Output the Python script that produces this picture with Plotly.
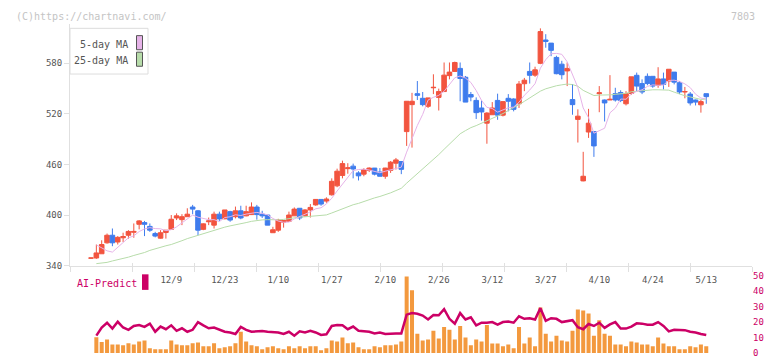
import plotly.graph_objects as go

# ---------------- data ----------------
opens = [348.8, 349, 354, 367, 376, 368, 373, 376, 379.5, 389,
         391, 386.5, 378, 372.5, 379.2, 383, 396.5, 394.5, 398, 409.5,
         405, 383, 392, 388, 401, 395.5, 404, 398, 405, 399,
         400.5, 409.5, 401, 400, 379, 382, 391.5, 392.5, 399, 408,
         399, 406, 412, 418.5, 416.5, 424, 434.6, 447, 455, 458,
         450, 448.5, 453, 455.7, 451, 446, 453, 461.5, 463.5, 499,
         531, 544, 538.5, 529, 551, 539.6, 546.5, 565.4, 570.4, 574,
         563.5, 543, 536, 527, 509, 519, 536, 518.5, 538.5, 537.7,
         532, 555.8, 570.4, 566, 580, 607.7, 604, 587, 579, 571,
         537, 513.5, 440.5, 498.5, 499, 544, 536.5, 536.5, 544, 545.4,
         532, 544.2, 565.8, 556, 564.6, 564.6, 554, 561.5, 559, 569.6,
         557, 546, 543.5, 536.5, 530.8, 544]
highs = [349, 365, 370, 378, 384, 375, 379, 382, 390, 394,
         393, 390, 380, 382, 382, 400, 402, 401, 408, 412,
         406, 390, 397, 404, 404, 406, 405, 410, 411, 411,
         415, 412, 405, 400, 386, 395.5, 394, 404, 409, 408,
         407, 413, 419, 418.5, 421, 443.5, 455, 464.5, 461.5, 461,
         452, 455.5, 456.5, 455.7, 455.7, 456, 464, 467.7, 463.5, 535,
         545, 559, 546, 539, 567, 550, 581, 581, 582, 581,
         565, 546, 539.6, 536, 522, 534, 544, 534.6, 543.5, 538.5,
         559, 562.7, 581, 576, 621.5, 614.6, 604, 589, 583, 581,
         555.5, 525.4, 475, 526, 499, 553, 537, 566, 551, 548,
         547, 564, 569, 561, 568, 564.6, 575.4, 569, 573, 569.6,
         559, 552, 546, 537, 536.5, 544]
lows = [349, 348, 354, 366, 363, 365, 368, 372, 373, 383,
        375, 380, 373.5, 372, 372, 383, 394, 388, 398, 401,
        376, 382, 388, 384, 393, 395, 392, 396, 395, 398.5,
        400, 394.5, 396.5, 388, 379, 380, 385, 392, 399, 394,
        398, 397, 411, 411, 414.5, 423, 433, 443.5, 449, 443.5,
        441, 446, 451, 447, 446, 443, 450, 454, 448.5, 482,
        480, 536.5, 529, 527, 543.5, 524, 546, 561, 570, 535,
        534, 535, 514, 512, 484.6, 519, 513, 517, 523, 523,
        527, 547, 556, 564, 579, 598.5, 588.5, 567, 561, 553,
        519, 486, 440, 491.5, 469, 522, 511, 536.5, 534.6, 534,
        530, 542.7, 547, 543.5, 554, 551, 551, 549, 552, 555,
        543.5, 538.5, 530, 530, 521.5, 532]
closes = [349, 355, 365, 376, 367, 373.5, 374.5, 380.5, 380.5, 393,
          389, 382, 375, 379, 382, 395, 399, 398, 401, 407,
          382, 389.5, 393, 401, 395.4, 406, 394, 405, 396.5, 404,
          409.5, 400.5, 399, 388, 382.5, 394, 393.5, 400, 407, 396.5,
          406, 409, 418.5, 413, 419, 440, 452, 461, 456, 454.6,
          446.5, 454, 455.7, 448.5, 446, 455.7, 462.7, 465.4, 454.2, 535,
          535, 542, 531, 539, 551.5, 546.5, 566, 569.6, 581, 562,
          534, 540, 521.5, 522.3, 521, 527, 518.5, 534.6, 535, 525.4,
          555.5, 560, 565.8, 572.3, 617.7, 606, 595.4, 567.7, 566.5, 574,
          531, 517.3, 446, 509, 482, 545, 533, 537.3, 536.5, 536,
          544, 564, 553, 546, 556, 553, 561.5, 555, 573, 557.7,
          546, 546.5, 533, 534, 534.6, 540.5]

ma5 = [None, 364.5, 361, 357.5, 356, 362, 368, 373, 375.2, 380.4,
       383.5, 385, 383.9, 383.6, 381.4, 382.6, 386, 390.6, 395, 400,
       397.4, 395.5, 394.5, 394.5, 392.2, 397, 397.9, 400.3, 399.4, 401.1,
       401.8, 403.1, 401.9, 400.2, 395.9, 392.8, 391.4, 391.6, 395.4, 398.2,
       400.6, 403.7, 407.4, 408.6, 413.1, 419.9, 428.5, 437, 445.6, 452.7,
       454, 454.4, 453.4, 451.9, 450.1, 452, 453.7, 455.7, 456.8, 474.6,
       490.5, 506.3, 519.4, 536.4, 539.7, 542, 546.8, 554.5, 562.9, 565,
       562.5, 557.3, 547.7, 536, 527.8, 526.4, 522.1, 524.7, 527.2, 528.1,
       533.8, 542.1, 548.3, 555.8, 574.3, 584.4, 591.4, 591.8, 590.7, 581.9,
       566.9, 551.3, 527, 515.5, 497.1, 499.9, 503, 521.3, 526.8, 537.6,
       537.4, 543.6, 546.7, 548.6, 552.6, 554.4, 553.9, 554.3, 559.7, 560,
       558.6, 555.6, 551.2, 543.4, 538.8, 537.7]
ma25 = [None, 342.3, 343, 343.8, 345.5, 346.8, 348, 350, 352, 353.5,
        355.5, 358, 360, 362, 363.5, 365, 367, 369.5, 372, 374,
        376, 378, 380, 381.7, 383.3, 385.6, 387.1, 388.7, 389.5, 391,
        392.5, 393.5, 394.2, 394.5, 394.1, 394.3, 394.8, 395.8, 396.9, 397.5,
        397.9, 398.3, 399.1, 399.6, 400.1, 402.4, 404.9, 407.6, 409.8, 412.2,
        413.8, 416.2, 418.3, 420.3, 422, 423.9, 426.3, 429, 431.7, 437.8,
        443.4, 449.3, 454.6, 459.9, 466.1, 471.7, 478, 484, 490.7, 496.4,
        500.2, 503.7, 506.1, 508.8, 511.4, 514.7, 517.2, 520.4, 523.9, 527,
        531, 534.9, 538.9, 543.7, 547, 549.8, 551.9, 553.4, 554.5, 555.4,
        554.8, 552.8, 547.9, 545, 541.8, 542.3, 542, 542.6, 543.2, 543.8,
        544.5, 546.3, 547, 547.5, 548.7, 548.6, 548.6, 548.2, 548.2, 545.8,
        543.4, 541.5, 540.1, 538.8, 537.2, 537.6]

volume = [None, 10.2, 7.1, 8.8, 5.6, 5.6, 5.0, 6.3, 5.6, 7.5,
          8.1, 3.1, 2.5, 2.5, 2.5, 8.1, 5.6, 5.0, 5.0, 6.3,
          6.9, 4.4, 4.4, 6.3, 3.1, 3.75, 4.4, 6.3, 13.75, 7.5,
          5.0, 4.4, 2.5, 3.75, 4.4, 3.1, 2.5, 4.4, 3.1, 4.4,
          3.1, 4.4, 4.4, 1.9, 3.1, 8.1, 7.5, 10, 6.3, 6.9,
          3.75, 2.5, 2.5, 4.4, 3.75, 5.0, 5.0, 5.6, 7.5, 49.4,
          40.6, 12.5, 8.1, 8.75, 14.4, 9.4, 16.9, 15, 8.75, 17.5,
          10, 5, 8.75, 7.5, 18.1, 6.25, 6.25, 4.4, 5.6, 3.1,
          16.9, 6.25, 10, 4.4, 29.4, 12.5, 7.5, 11.25, 8.1, 7.5,
          14.4, 28.1, 27.5, 25.6, 11.25, 21.25, 12.5, 11.25, 5.6, 5.6,
          4.4, 7.5, 6.9, 5.6, 5.6, 4.4, 10, 6.25, 4.4, 4.4,
          2.5, 2.5, 4.4, 3.75, 5.6, 4.4]
ai_predict = [None, 11.25, 16.5, 19.6, 15.8, 20.2, 16.5, 15, 17.5, 18.1,
              16.9, 19, 13.75, 17.1, 15.4, 17.9, 14.4, 16, 13.75, 15,
              20, 17.9, 16, 16.5, 15, 13.75, 13.3, 12.3, 16.9, 15,
              13.75, 14.2, 14.2, 13.75, 13.3, 13.3, 12.3, 13.75, 11.25, 14,
              13.3, 14.4, 13.3, 11.7, 12.1, 17.5, 18.1, 17.9, 15.4, 17.1,
              14.4, 14, 13.75, 12.7, 13.3, 12.3, 12.7, 12.7, 12.7, 24.8,
              25.8, 25.4, 24.2, 21.7, 24.6, 24.4, 28.3, 22.1, 19, 25.8,
              21.7, 23.1, 17.9, 19.6, 19.6, 20, 18.3, 20, 20.4, 19.6,
              23.75, 22.1, 22.5, 21.7, 29, 20.8, 22.5, 22.1, 20, 20.8,
              21.25, 16.7, 15.4, 18.75, 17.5, 19.6, 16.25, 18.5, 20, 15.8,
              15.8, 17.1, 19.2, 19, 18.3, 18.3, 20, 17.5, 14, 15,
              15, 14.8, 13.75, 13.3, 12.3, 11.7]

tick_idx = [15, 25, 35, 45, 55, 65, 75, 85, 95, 105, 115]
tick_labels = ["12/9", "12/23", "1/10", "1/27", "2/10", "2/26",
               "3/12", "3/27", "4/10", "4/24", "5/13"]
price_ticks = [340, 400, 460, 520, 580]
right_ticks = [0, 10, 20, 30, 40, 50]

idx = list(range(len(closes)))

# ---------------- styling / layout helpers ----------------
W, H = 772, 361
ML, MR = 70, 20
PW = W - ML - MR
MONO = "DejaVu Sans Mono"
RED, BLUE = "#f2543f", "#3f7ced"
PINK, GREEN = "#e6b3e8", "#b7dcaa"
ORANGE, CRIMSON = "#f3993e", "#cc0066"
AXC, LBL = "#e0e0e0", "#555555"


def px(x):
    return (x - ML) / PW


def py(y):
    return (H - y) / H


XR = [-3.925, 123.55]
GRID0, GRIDD = -3.925, 11.589

fig = go.Figure()
fig.add_trace(go.Scatter(x=idx, y=ma25, mode="lines", line=dict(color=GREEN, width=1),
                         hoverinfo="skip", showlegend=False))
fig.add_trace(go.Scatter(x=idx, y=ma5, mode="lines", line=dict(color=PINK, width=1),
                         hoverinfo="skip", showlegend=False))
fig.add_trace(go.Candlestick(
    x=idx, open=opens, high=highs, low=lows, close=closes,
    increasing=dict(line=dict(color=RED, width=1), fillcolor=RED),
    decreasing=dict(line=dict(color=BLUE, width=1), fillcolor=BLUE),
    whiskerwidth=0, showlegend=False))
fig.add_trace(go.Bar(x=idx, y=volume, xaxis="x2", yaxis="y2", width=0.75,
                     marker=dict(color=ORANGE, line=dict(width=0)), showlegend=False))
fig.add_trace(go.Scatter(x=idx, y=ai_predict, xaxis="x2", yaxis="y2", mode="lines",
                         line=dict(color=CRIMSON, width=2.5), showlegend=False))
# helper traces so the overlay axes (date labels / tick stubs) exist
fig.add_trace(go.Scatter(x=[], y=[], xaxis="x3", yaxis="y", showlegend=False))
fig.add_trace(go.Scatter(x=[], y=[], xaxis="x4", yaxis="y", showlegend=False))

common_x = dict(range=XR, showgrid=False, zeroline=False)
fig.update_layout(
    width=W, height=H, margin=dict(l=ML, r=MR, t=0, b=0),
    paper_bgcolor="white", plot_bgcolor="white",
    font=dict(family=MONO, size=9, color=LBL),
    showlegend=False, boxgap=0.05, boxgroupgap=0.1, hovermode=False,
    xaxis=dict(domain=[0, 1], anchor="y", showline=True, linecolor=AXC, linewidth=1,
               ticks="outside", ticklen=5, tickcolor=AXC, tickmode="linear",
               tick0=GRID0, dtick=GRIDD, showticklabels=False,
               rangeslider=dict(visible=False), **common_x),
    xaxis3=dict(overlaying="x", anchor="y", showline=False, ticks="outside", ticklen=6,
                tickcolor="rgba(0,0,0,0)", tickvals=tick_idx, ticktext=tick_labels,
                tickfont=dict(family=MONO, size=9, color=LBL), **common_x),
    xaxis4=dict(overlaying="x", anchor="y", showline=False, ticks="inside", ticklen=3,
                tickcolor=AXC, tickmode="linear", tick0=GRID0, dtick=GRIDD,
                showticklabels=False, **common_x),
    yaxis=dict(domain=[py(268), py(20)], anchor="x", range=[340, 340 + 248 * 60 / 52],
               showline=True, linecolor=AXC, linewidth=1, ticks="outside", ticklen=5,
               tickcolor=AXC, tickvals=price_ticks, showgrid=False, zeroline=False,
               tickfont=dict(family=MONO, size=9, color=LBL)),
    xaxis2=dict(domain=[0, 1], anchor="y2", showline=False, ticks="", showticklabels=False,
                **common_x),
    yaxis2=dict(domain=[py(358), py(278.3)], anchor="x2", side="right", range=[0, 50],
                tickvals=right_ticks, showline=False, ticks="", showgrid=False,
                zeroline=False, tickfont=dict(family=MONO, size=9, color=CRIMSON)),
)

shapes = [
    dict(type="rect", xref="paper", yref="paper", x0=px(70), x1=px(148), y0=py(71), y1=py(24),
         fillcolor="white", line=dict(color="#dddddd", width=1), layer="above"),
    dict(type="rect", xref="paper", yref="paper", x0=px(136.5), x1=px(142.5), y0=py(46), y1=py(31.5),
         fillcolor=PINK, line=dict(color="#555555", width=1), layer="above"),
    dict(type="rect", xref="paper", yref="paper", x0=px(136.5), x1=px(142.5), y0=py(63), y1=py(48.5),
         fillcolor=GREEN, line=dict(color="#555555", width=1), layer="above"),
    dict(type="rect", xref="paper", yref="paper", x0=px(142), x1=px(148.5), y0=py(293), y1=py(277),
         fillcolor=CRIMSON, line=dict(width=0), layer="above"),
]
annotations = [
    dict(text="(C)https://chartnavi.com/", x=px(14), y=py(12), xanchor="left", yanchor="middle",
         font=dict(family=MONO, size=10, color="#c4c4c4")),
    dict(text="7803", x=px(757), y=py(12), xanchor="right", yanchor="middle",
         font=dict(family=MONO, size=10, color="#c4c4c4")),
    dict(text="5-day MA", x=px(130), y=py(41), xanchor="right", yanchor="middle",
         font=dict(family=MONO, size=10, color=LBL)),
    dict(text="25-day MA", x=px(130), y=py(57), xanchor="right", yanchor="middle",
         font=dict(family=MONO, size=10, color=LBL)),
    dict(text="AI-Predict", x=px(75), y=py(286), xanchor="left", yanchor="middle",
         font=dict(family=MONO, size=10, color=CRIMSON)),
]
for a in annotations:
    a.update(xref="paper", yref="paper", showarrow=False)
fig.update_layout(shapes=shapes, annotations=annotations)

fig.write_html(
    "out.html",
    config={"displayModeBar": False, "staticPlot": True},
    post_script="document.body.style.margin='0';document.body.style.padding='0';"
                "document.body.style.overflow='hidden';",
)
